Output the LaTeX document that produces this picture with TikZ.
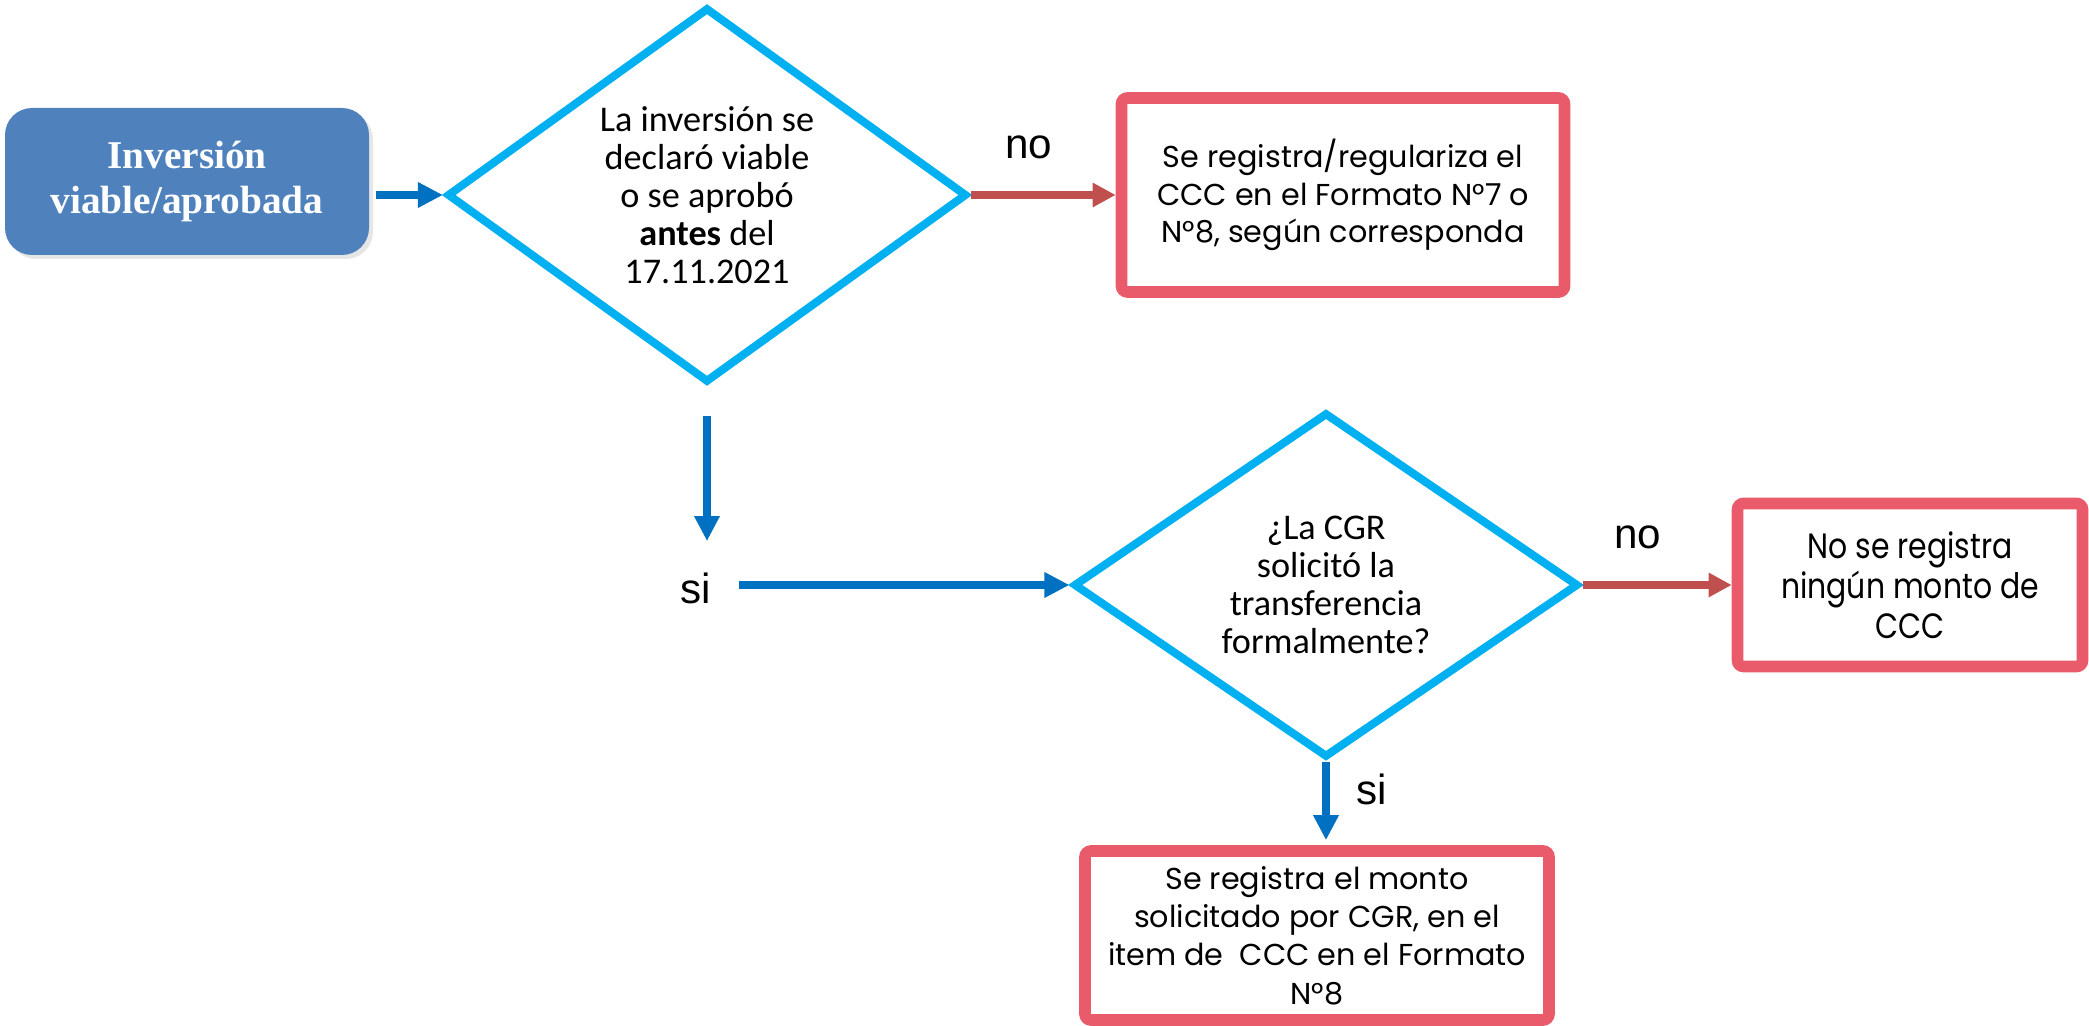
\documentclass[tikz,border=0pt]{standalone}
\usepackage{fontspec}
\usepackage{tikz}
\usetikzlibrary{shapes,arrows.meta,positioning,shadows}
\newfontfamily\diafont{Carlito}
\newfontfamily\roundfont{Poppins}
\newfontfamily\narrowfont[FakeStretch=0.85]{Poppins}
\newfontfamily\lblfont{Liberation Sans}
\newfontfamily\slabfont{Liberation Serif}
\definecolor{startblue}{HTML}{4F81BD}
\definecolor{diacyan}{HTML}{00B0F0}
\definecolor{yesblue}{HTML}{0070C0}
\definecolor{nored}{HTML}{C0504D}
\definecolor{boxred}{HTML}{E95A6A}
\tikzstyle{startbox} = [rectangle, fill=startblue, text=white, rounded corners=2.7mm,
    minimum width=3.64cm, minimum height=1.47cm, align=center,
    font=\slabfont\bfseries\fontsize{11.2}{13}\selectfont,
    drop shadow={opacity=0.2, shadow xshift=0.4mm, shadow yshift=-0.4mm}]
\tikzstyle{decision} = [diamond, draw=diacyan, line width=2.3pt, aspect=1.4, inner sep=0pt,
    align=center, font=\diafont\fontsize{10.3}{10.8}\selectfont]
\tikzstyle{block} = [rectangle, draw=boxred, line width=3.3pt, rounded corners=0.6mm,
    fill=white, align=center]
\tikzstyle{yesline} = [draw=yesblue, line width=2pt, -{Triangle[length=2.5mm,width=2.4mm]}]
\tikzstyle{noline} = [draw=nored, line width=2.3pt, -{Triangle[length=2.3mm,width=2.3mm]}]
\tikzstyle{lbl} = [font=\lblfont\fontsize{12}{14}\selectfont, text=black]

\begin{document}
\begin{tikzpicture}
  \useasboundingbox (0,0) rectangle (20.89,-10.26);
  % Place nodes
  \node [decision, minimum width=5.2cm, minimum height=3.75cm] (query) at (7.07,-1.95)
  {La inversión se\\declaró viable\\o se aprobó\\\textbf{antes} del\\17.11.2021};
  \node [startbox, left of=query, node distance=5.2cm, yshift=1.35mm] (invest)
  {Inversión\\viable/aprobada};
  \node [block, right of=query, node distance=6.36cm, minimum width=4.43cm, minimum height=1.94cm,
    font=\roundfont\fontsize{8.6}{10.6}\selectfont] (regist)
  {Se registra/regulariza el\\CCC en el Formato N°7 o\\N°8, según corresponda};
  \node [lbl, below of=query, node distance=3.93cm, xshift=-1.1mm] (yesA) {si};
  \node [decision, below of=regist, node distance=3.9cm, xshift=-1.7mm, aspect=1.46,
    minimum width=5.05cm, minimum height=3.45cm] (request)
  {¿La CGR\\solicitó la\\transferencia\\formalmente?};
  \node [block, right of=request, node distance=5.84cm, minimum width=3.45cm, minimum height=1.63cm,
    font=\narrowfont\fontsize{10}{11.4}\selectfont] (nothing)
  {No se registra\\ningún monto de\\CCC};
  \node [block, below of=request, node distance=3.505cm, xshift=-0.9mm, minimum width=4.64cm,
    minimum height=1.69cm, font=\roundfont\fontsize{8.6}{10.9}\selectfont] (amount)
  {Se registra el monto\\solicitado por CGR, en el\\item de~ CCC en el Formato\\N°8};
  % Draw edges
  \draw[yesline] ([xshift=0.6mm]invest.east |- query.west) -- (query.west);
  \draw[noline] (query.east) -- node[lbl, above=2mm, pos=0.4, name=noA]{no} (regist.west);
  \draw[yesline] ([yshift=-2.9mm]query.south) -- ([yshift=1.9mm]query.south |- yesA.north);
  \draw[yesline] ([xshift=1.5mm]yesA.east |- request.west) -- (request.west);
  \draw[noline] (request.east) -- node[lbl, above=2mm, pos=0.37, name=noB]{no} (nothing.west);
  \draw[yesline] (request.south) -- node[lbl, right=1.5mm, pos=0.35, name=yesB]{si}
    ([yshift=0.5mm]request.south |- amount.north);
\end{tikzpicture}
\end{document}
